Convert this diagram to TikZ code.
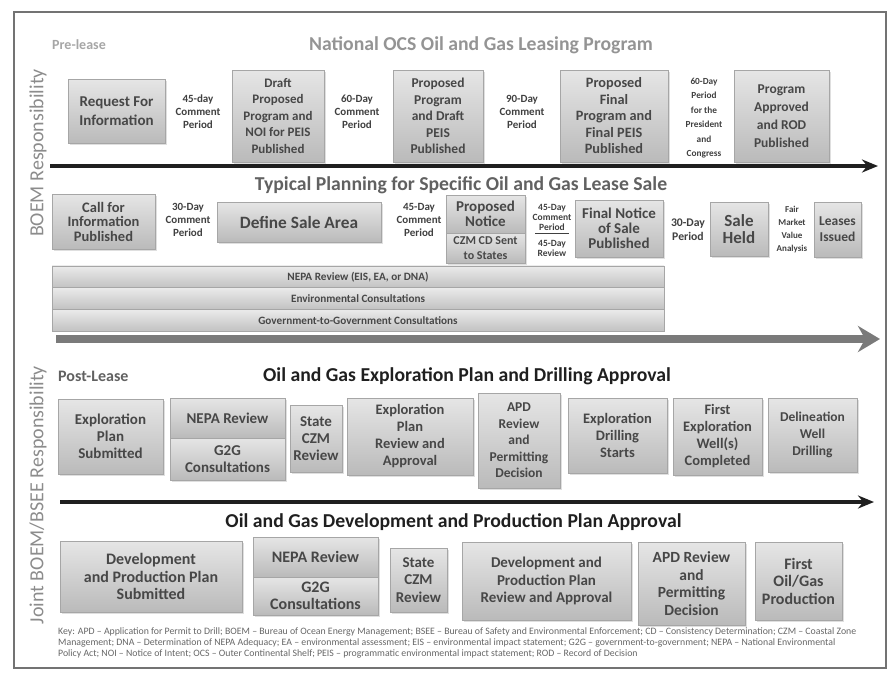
\documentclass[tikz,border=0pt]{standalone}
\usepackage{fontspec}
\setmainfont{Carlito}
\usetikzlibrary{arrows.meta}
\usetikzlibrary{shadows}

\tikzset{
    stage/.style={draw=black!35, top color=black!10, bottom color=black!27,
        drop shadow={shadow xshift=1.5pt, shadow yshift=-1.5pt, opacity=0.25},
        align=center, inner sep=1pt, text=black!72,
        font=\fontsize{13}{16.5}\selectfont\bfseries},
    note/.style={align=center, inner sep=0pt, text=black!75,
        font=\fontsize{11}{13}\selectfont\bfseries},
    tiny/.style={align=center, inner sep=0pt, text=black!75,
        font=\fontsize{9.5}{10}\selectfont\bfseries},
    ttl/.style={inner sep=0pt, font=\fontsize{19.7}{22}\selectfont\bfseries},
    bar/.style={draw=black!35, top color=black!8, bottom color=black!24,
        minimum width=612pt, inner sep=0pt, text=black!72,
        font=\fontsize{11.2}{12}\selectfont\bfseries},
    side/.style={rotate=90, inner sep=0pt, text=black!45,
        font=\fontsize{20}{22}\selectfont},
    timeline/.style={line width=4pt, black!88, -{Stealth[length=16pt,width=13pt]}}
}

\begin{document}
\begin{tikzpicture}[x=1pt, y=-1pt]
    \useasboundingbox (0,0) rectangle (889,675);
    \draw [black!55, line width=1.2pt] (14,12) rectangle (886,668);

    \node (boem) [side] at (38,153) {BOEM Responsibility};
    \node (joint) [side] at (38,495) {Joint BOEM/BSEE Responsibility};

    % national program
    \node (pre) [ttl, anchor=west, text=black!35, font=\fontsize{14}{16}\selectfont\bfseries] at (52,45) {Pre-lease};
    \node (ttl1) [ttl, text=black!42] at (481,45) {National OCS Oil and Gas Leasing Program};
    \node (rfi) [stage, minimum width=97pt, minimum height=64pt, font=\fontsize{15}{19}\selectfont\bfseries] at (116.5,111) {Request For\\Information};
    \node (c45) [note] at (198,112) {45-day\\Comment\\Period};
    \node (draft) [stage, minimum width=92pt, minimum height=92pt] at (278,116) {Draft\\Proposed\\Program and\\NOI for PEIS\\Published};
    \node (c60) [note] at (357,112) {60-Day\\Comment\\Period};
    \node (ppdp) [stage, minimum width=90pt, minimum height=92pt, font=\fontsize{13.5}{16.5}\selectfont\bfseries] at (438,116) {Proposed\\Program\\and Draft\\PEIS\\Published};
    \node (c90) [note] at (522,112) {90-Day\\Comment\\Period};
    \node (pfp) [stage, minimum width=108pt, minimum height=92pt, font=\fontsize{14.3}{16.5}\selectfont\bfseries] at (614,116) {Proposed\\Final\\Program and\\Final PEIS\\Published};
    \node (c60p) [note, font=\fontsize{9.3}{14.5}\selectfont\bfseries] at (704,118) {60-Day\\Period\\for the\\President\\and\\Congress};
    \node (appr) [stage, minimum width=95pt, minimum height=92pt, font=\fontsize{13.5}{18}\selectfont\bfseries] at (781.5,116) {Program\\Approved\\and ROD\\Published};
    \coordinate (tl1s) at (50,166);
    \coordinate (tl1e) at (878,166);
    \draw [timeline] (tl1s) -- (tl1e);

    % lease sale
    \node (ttl2) [ttl, text=black!62] at (461,185) {Typical Planning for Specific Oil and Gas Lease Sale};
    \node (call) [stage, minimum width=103pt, minimum height=55pt, font=\fontsize{14.5}{14.5}\selectfont\bfseries] at (103.5,221.5) {Call for\\Information\\Published};
    \node (c30) [note] at (188,220) {30-Day\\Comment\\Period};
    \node (dsa) [stage, minimum width=164pt, minimum height=40pt, font=\fontsize{17.3}{19}\selectfont\bfseries] at (299,222) {Define Sale Area};
    \node (c45b) [note] at (419,220) {45-Day\\Comment\\Period};
    \node (pn) [stage, minimum width=79pt, minimum height=38pt, font=\fontsize{15}{15}\selectfont\bfseries] at (485.5,214) {Proposed\\Notice};
    \node (czm) [stage, minimum width=79pt, minimum height=30pt, font=\fontsize{12}{15}\selectfont\bfseries] at (485.5,248) {CZM CD Sent\\to States};
    \node (c45c) [tiny] at (552,217) {45-Day\\Comment\\Period};
    \node (r45) [tiny] at (552,248) {45-Day\\Review};
    \coordinate (spl) at (535,233);
    \coordinate (spr) at (569,233);
    \draw [black!75, line width=1pt] (spl) -- (spr);
    \node (fns) [stage, minimum width=88pt, minimum height=57pt, font=\fontsize{15}{15}\selectfont\bfseries] at (619,228.5) {Final Notice\\of Sale\\Published};
    \node (c30p) [note, font=\fontsize{11.7}{14}\selectfont\bfseries] at (688,230) {30-Day\\Period};
    \node (held) [stage, minimum width=58pt, minimum height=54pt, font=\fontsize{17}{17}\selectfont\bfseries] at (739,229) {Sale\\Held};
    \node (fmv) [tiny, font=\fontsize{9}{13}\selectfont\bfseries] at (792,230) {Fair\\Market\\Value\\Analysis};
    \node (issued) [stage, minimum width=47pt, minimum height=55pt, font=\fontsize{13.5}{16}\selectfont\bfseries] at (837.5,229.5) {Leases\\Issued};
    \node (nepa) [bar, minimum height=21.7pt] at (358,276.8) {NEPA Review (EIS, EA, or DNA)};
    \node (envc) [bar, minimum height=21.7pt] at (358,298.5) {Environmental Consultations};
    \node (g2g) [bar, minimum height=21.7pt] at (358,320.2) {Government-to-Government Consultations};
    \coordinate (tl2s) at (56,339);
    \coordinate (tl2e) at (880,339);
    \draw [line width=8pt, black!52, -{Stealth[length=22pt,width=26pt]}] (tl2s) -- (tl2e);

    % exploration
    \node (post) [ttl, anchor=west, text=black!62, font=\fontsize{16}{18}\selectfont\bfseries] at (58,376) {Post-Lease};
    \node (ttl3) [ttl, text=black!88] at (467,376) {Oil and Gas Exploration Plan and Drilling Approval};
    \node (eps) [stage, minimum width=105pt, minimum height=75pt, font=\fontsize{15}{17}\selectfont\bfseries] at (110.5,436.5) {Exploration\\Plan\\Submitted};
    \node (nepa3) [stage, minimum width=115pt, minimum height=40pt, font=\fontsize{15}{17}\selectfont\bfseries] at (227.5,418) {NEPA Review};
    \node (g2g3) [stage, minimum width=115pt, minimum height=42pt, font=\fontsize{15}{17}\selectfont\bfseries] at (227.5,459) {G2G\\Consultations};
    \node (czm3) [stage, minimum width=52pt, minimum height=67pt, font=\fontsize{15}{17}\selectfont\bfseries] at (316,438.5) {State\\CZM\\Review};
    \node (epra) [stage, minimum width=126pt, minimum height=77pt, font=\fontsize{14.5}{17}\selectfont\bfseries] at (410,436.5) {Exploration\\Plan\\Review and\\Approval};
    \node (apd3) [stage, minimum width=82pt, minimum height=95pt, font=\fontsize{13.5}{16.5}\selectfont\bfseries] at (519,440.5) {APD\\Review\\and\\Permitting\\Decision};
    \node (eds) [stage, minimum width=99pt, minimum height=75pt, font=\fontsize{14.5}{17}\selectfont\bfseries] at (617.5,435.5) {Exploration\\Drilling\\Starts};
    \node (fewc) [stage, minimum width=89pt, minimum height=77pt, font=\fontsize{14.5}{17}\selectfont\bfseries] at (717.5,436.5) {First\\Exploration\\Well(s)\\Completed};
    \node (dwd) [stage, minimum width=89pt, minimum height=74pt, font=\fontsize{13.5}{17}\selectfont\bfseries] at (812.5,435) {Delineation\\Well\\Drilling};
    \coordinate (tl3s) at (60,502);
    \coordinate (tl3e) at (874,502);
    \draw [timeline] (tl3s) -- (tl3e);

    % development
    \node (ttl4) [ttl, text=black!88] at (453.5,522) {Oil and Gas Development and Production Plan Approval};
    \node (dps) [stage, minimum width=182pt, minimum height=71pt, font=\fontsize{16}{17.5}\selectfont\bfseries] at (151,576.5) {Development\\and Production Plan\\Submitted};
    \node (nepa4) [stage, minimum width=125pt, minimum height=40pt, font=\fontsize{16}{17.5}\selectfont\bfseries] at (315.5,557) {NEPA Review};
    \node (g2g4) [stage, minimum width=125pt, minimum height=38pt, font=\fontsize{16}{17.5}\selectfont\bfseries] at (315.5,596) {G2G\\Consultations};
    \node (czm4) [stage, minimum width=57pt, minimum height=64pt, font=\fontsize{15}{17.5}\selectfont\bfseries] at (418.5,580) {State\\CZM\\Review};
    \node (dpra) [stage, minimum width=169pt, minimum height=78pt, font=\fontsize{15}{17.5}\selectfont\bfseries] at (546.5,581) {Development and\\Production Plan\\Review and Approval};
    \node (apd4) [stage, minimum width=107pt, minimum height=83pt, font=\fontsize{15.5}{17.5}\selectfont\bfseries] at (691.5,583.5) {APD Review\\and\\Permitting\\Decision};
    \node (fogp) [stage, minimum width=87pt, minimum height=78pt, font=\fontsize{16}{17.5}\selectfont\bfseries] at (798.5,581) {First\\Oil/Gas\\Production};

    \node (key) [anchor=north west, align=left, inner sep=0pt, text=black!60, font=\fontsize{9.8}{11}\selectfont] at (58,627)
        {Key: APD -- Application for Permit to Drill; BOEM -- Bureau of Ocean Energy Management; BSEE -- Bureau of Safety and Environmental Enforcement; CD -- Consistency Determination; CZM -- Coastal Zone\\
         Management; DNA -- Determination of NEPA Adequacy; EA -- environmental assessment; EIS -- environmental impact statement; G2G -- government-to-government; NEPA -- National Environmental\\
         Policy Act; NOI -- Notice of Intent; OCS -- Outer Continental Shelf; PEIS -- programmatic environmental impact statement; ROD -- Record of Decision};
\end{tikzpicture}
\end{document}
